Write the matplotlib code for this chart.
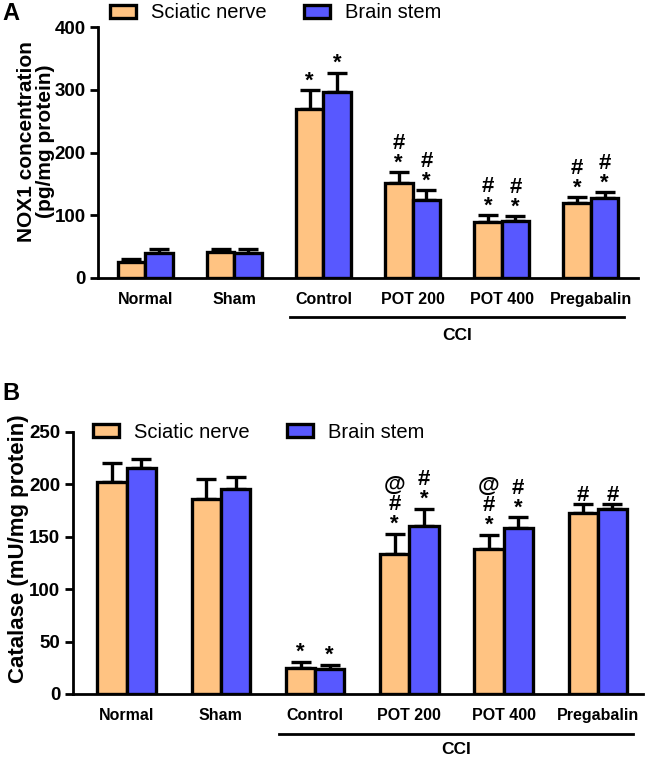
import numpy as np
import matplotlib
matplotlib.use("Agg")
import matplotlib.pyplot as plt
from matplotlib.patches import Patch

# ===================== Data =====================
groups = ["Normal", "Sham", "Control", "POT 200", "POT 400", "Pregabalin"]
series_names = ["Sciatic nerve", "Brain stem"]

# Panel A: NOX1 concentration (pg/mg protein)
nox_sciatic = [25, 41, 269, 151, 90, 119]
nox_sciatic_err = [5, 6, 30, 18, 10, 10]
nox_brain = [40, 40, 296, 124, 91, 127]
nox_brain_err = [6, 6, 31, 16, 8, 10]
nox_marks_sciatic = ["", "", "*", "#\n*", "#\n*", "#\n*"]
nox_marks_brain = ["", "", "*", "#\n*", "#\n*", "#\n*"]

# Panel B: Catalase (mU/mg protein)
cat_sciatic = [202, 186, 25, 134, 138, 173]
cat_sciatic_err = [18, 19, 6, 19, 14, 8]
cat_brain = [216, 196, 24, 160, 158, 177]
cat_brain_err = [8, 11, 4, 17, 11, 4]
cat_marks_sciatic = ["", "", "*", "@\n#\n*", "@\n#\n*", "#"]
cat_marks_brain = ["", "", "*", "#\n*", "#\n*", "#"]

# ===================== Style =====================
plt.rcParams["font.family"] = ["Liberation Sans", "DejaVu Sans"]
c_sci = "#FFC382"
c_brain = "#5858FF"
w = 0.31
edge_lw = 2.4

fig = plt.figure(figsize=(6.47, 7.62), dpi=100)


def draw_panel(ax, sci, sci_err, br, br_err, m_sci, m_br, ymax, ystep, ylabel,
               ylab_size, xlim, ax_h_px, line_px, cci_px, label_xy):
    x = np.arange(len(groups))
    for off, vals, errs, col, marks in [(-w / 2, sci, sci_err, c_sci, m_sci),
                                        (w / 2, br, br_err, c_brain, m_br)]:
        ax.bar(x + off, vals, width=w, color=col, edgecolor="black",
               linewidth=edge_lw, zorder=3)
        ax.errorbar(x + off, vals, yerr=[np.zeros(len(vals)), errs], fmt="none",
                    ecolor="black", elinewidth=2.4, capsize=7, capthick=2.4, zorder=2)
        for xi, v, e, mk in zip(x + off, vals, errs, marks):
            if mk:
                ax.annotate(mk, (xi, v + e), xytext=(0, -1), textcoords="offset points",
                            ha="center", va="bottom", fontsize=16, fontweight="bold",
                            linespacing=0.92)
    ax.set_xlim(*xlim)
    ax.set_ylim(0, ymax)
    ax.set_yticks(np.arange(0, ymax + 1, ystep))
    ax.set_xticks(x)
    ax.set_xticklabels(groups, fontsize=11.5, fontweight="bold")
    ax.tick_params(axis="x", length=0, pad=10)
    ax.tick_params(axis="y", length=6, width=2, labelsize=13.5, pad=3)
    for t in ax.get_yticklabels():
        t.set_fontweight("bold")
    for s in ["top", "right"]:
        ax.spines[s].set_visible(False)
    for s in ["left", "bottom"]:
        ax.spines[s].set_linewidth(2)
    ax.set_ylabel(ylabel, fontsize=ylab_size, fontweight="bold", linespacing=1.0)
    ax.yaxis.set_label_coords(*label_xy)
    # CCI bracket line under the CCI groups
    tr = ax.get_xaxis_transform()
    ax.plot([1.62, 5.37], [-line_px / ax_h_px] * 2, transform=tr,
            color="black", lw=2, clip_on=False)
    ax.text(3.5, -cci_px / ax_h_px, "CCI", transform=tr, ha="center",
            va="center", fontsize=12.5, fontweight="bold")


handles = [Patch(facecolor=c_sci, edgecolor="black", linewidth=edge_lw),
           Patch(facecolor=c_brain, edgecolor="black", linewidth=edge_lw)]
leg_kw = dict(loc="center left", ncol=2, frameon=False, fontsize=14.5,
              handlelength=1.3, handleheight=0.65, handletextpad=0.75,
              columnspacing=1.85, borderpad=0, borderaxespad=0)

# ---- Panel A ----
axA = fig.add_axes([98 / 647, 1 - 278 / 762, 540 / 647, 251 / 762])
draw_panel(axA, nox_sciatic, nox_sciatic_err, nox_brain, nox_brain_err,
           nox_marks_sciatic, nox_marks_brain, 400, 100,
           "NOX1 concentration\n(pg/mg protein)", 15, (-0.53, 5.53), 251, 39, 57,
           (-0.08, 0.545))
fig.legend(handles, series_names, bbox_to_anchor=(110 / 647, 1 - 13 / 762), **leg_kw)
fig.text(2 / 647, 1 - 14 / 762, "A", fontsize=17, fontweight="bold", va="center")

# ---- Panel B ----
axB = fig.add_axes([73 / 647, 1 - 694 / 762, 570 / 647, 262 / 762])
draw_panel(axB, cat_sciatic, cat_sciatic_err, cat_brain, cat_brain_err,
           cat_marks_sciatic, cat_marks_brain, 250, 50,
           "Catalase (mU/mg protein)", 16, (-0.57, 5.48), 262, 40, 56,
           (-0.078, 0.555))
fig.legend(handles, series_names, bbox_to_anchor=(93 / 647, 1 - 432 / 762), **leg_kw)
fig.text(2 / 647, 1 - 393 / 762, "B", fontsize=17, fontweight="bold", va="center")

fig.savefig("out.png", dpi=100)
